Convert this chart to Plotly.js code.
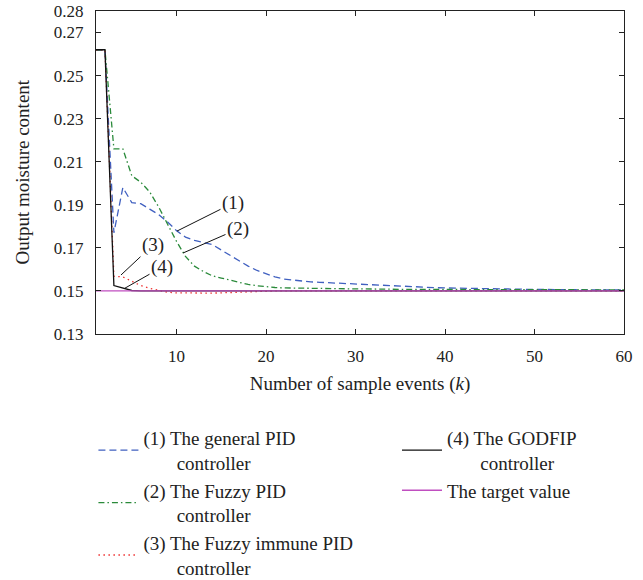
<!DOCTYPE html>
<html>
<head>
<meta charset="utf-8">
<script src="https://cdn.plot.ly/plotly-3.0.1.min.js"></script>
<style>html,body{margin:0;padding:0;background:#fff;}#chart{width:643px;height:580px;}</style>
</head>
<body>
<div id="chart"></div>
<script>
// Sample events k = 1..60
const sampleK = Array.from({length: 60}, (_, i) => i + 1);

// (1) The general PID controller
const generalPID = [
  0.262, 0.262, 0.177, 0.198, 0.191, 0.1905, 0.188, 0.1855, 0.182, 0.178,
  0.175, 0.1735, 0.1725, 0.1715, 0.169, 0.1665, 0.164, 0.1615, 0.1595, 0.158,
  0.1565, 0.1555, 0.155, 0.1545, 0.1542, 0.154, 0.1538, 0.1536, 0.1535, 0.1533,
  0.153, 0.1528, 0.1525, 0.1522, 0.152, 0.152, 0.1518, 0.1516, 0.1515, 0.1514,
  0.1513, 0.1512, 0.1511, 0.151, 0.151, 0.1509, 0.1509, 0.1508, 0.1508, 0.1507,
  0.1507, 0.1506, 0.1506, 0.1506, 0.1505, 0.1505, 0.1505, 0.1505, 0.1505, 0.1505
];
// (2) The Fuzzy PID controller
const fuzzyPID = [
  0.262, 0.262, 0.216, 0.216, 0.2035, 0.2005, 0.196, 0.189, 0.181, 0.173,
  0.166, 0.1615, 0.159, 0.157, 0.156, 0.155, 0.154, 0.153, 0.1524, 0.1519,
  0.1516, 0.1514, 0.1513, 0.1512, 0.1511, 0.1511, 0.151, 0.151, 0.151, 0.151,
  0.1509, 0.1509, 0.1508, 0.1508, 0.1508, 0.1507, 0.1507, 0.1507, 0.1506, 0.1506,
  0.1506, 0.1505, 0.1505, 0.1505, 0.1505, 0.1505, 0.1505, 0.1505, 0.1505, 0.1505,
  0.1505, 0.1505, 0.1505, 0.1505, 0.1505, 0.1505, 0.1505, 0.1505, 0.1505, 0.1505
];
// (3) The Fuzzy immune PID controller
const fuzzyImmunePID = [
  0.262, 0.262, 0.1568, 0.1565, 0.1545, 0.1525, 0.1512, 0.1502, 0.1494, 0.1491,
  0.149, 0.149, 0.149, 0.149, 0.1491, 0.1493, 0.1495, 0.1497, 0.1498, 0.1499,
  0.15, 0.15, 0.15, 0.15, 0.15, 0.15, 0.15, 0.15, 0.15, 0.15,
  0.15, 0.15, 0.15, 0.15, 0.15, 0.15, 0.15, 0.15, 0.15, 0.15,
  0.15, 0.15, 0.15, 0.15, 0.15, 0.15, 0.15, 0.15, 0.15, 0.15,
  0.15, 0.15, 0.15, 0.15, 0.15, 0.15, 0.15, 0.15, 0.15, 0.15
];
// (4) The GODFIP controller
const godfip = [
  0.262, 0.262, 0.1525, 0.1513, 0.1502, 0.15, 0.15, 0.15, 0.15, 0.15,
  0.15, 0.15, 0.15, 0.15, 0.15, 0.15, 0.15, 0.15, 0.15, 0.15,
  0.15, 0.15, 0.15, 0.15, 0.15, 0.15, 0.15, 0.15, 0.15, 0.15,
  0.15, 0.15, 0.15, 0.15, 0.15, 0.15, 0.15, 0.15, 0.15, 0.15,
  0.15, 0.15, 0.15, 0.15, 0.15, 0.15, 0.15, 0.15, 0.15, 0.15,
  0.15, 0.15, 0.15, 0.15, 0.15, 0.15, 0.15, 0.15, 0.15, 0.15
];
// Target value
const targetValue = sampleK.map(() => 0.15);

const yTickVals = [0.13, 0.15, 0.17, 0.19, 0.21, 0.23, 0.25, 0.27, 0.28];
const yTickText = ['0.13', '0.15', '0.17', '0.19', '0.21', '0.23', '0.25', '0.27', '0.28'];
const xTickVals = [10, 20, 30, 40, 50, 60];
const yTitle = 'Output moisture content';
const xTitle = 'Number of sample events (<i>k</i>)';

const seriesNames = [
  '(1) The general PID<br>\u00A0\u00A0\u00A0\u00A0\u00A0\u00A0\u00A0controller',
  '(2) The Fuzzy PID<br>\u00A0\u00A0\u00A0\u00A0\u00A0\u00A0\u00A0controller',
  '(3) The Fuzzy immune PID<br>\u00A0\u00A0\u00A0\u00A0\u00A0\u00A0\u00A0controller',
  '(4) The GODFIP<br>\u00A0\u00A0\u00A0\u00A0\u00A0\u00A0\u00A0controller',
  'The target value'
];

const FONT = 'Liberation Serif, Times New Roman, serif';

const traces = [
  {x: sampleK, y: generalPID, mode: 'lines', name: seriesNames[0], legend: 'legend',
   line: {color: '#4060c0', width: 1.3, dash: '7px,4px'}},
  {x: sampleK, y: fuzzyPID, mode: 'lines', name: seriesNames[1], legend: 'legend',
   line: {color: '#2a8a3a', width: 1.3, dash: '6px,3px,1.5px,3px'}},
  {x: sampleK, y: fuzzyImmunePID, mode: 'lines', name: seriesNames[2], legend: 'legend',
   line: {color: '#ee3030', width: 1.3, dash: '1.5px,3.5px'}},
  {x: sampleK, y: godfip, mode: 'lines', name: seriesNames[3], legend: 'legend2',
   line: {color: '#111111', width: 1.3}},
  {x: sampleK, y: targetValue, mode: 'lines', name: seriesNames[4], legend: 'legend2',
   line: {color: '#c04ec0', width: 1.3}}
];

const annFont = {family: FONT, size: 19, color: '#222'};
function leader(txt, x, y, ax, ay) {
  return {x: x, y: y, xref: 'x', yref: 'y', text: txt, showarrow: true, arrowhead: 0,
          arrowwidth: 1, arrowcolor: '#111', ax: ax, ay: ay, standoff: 0, font: annFont};
}

const layout = {
  width: 643, height: 580,
  margin: {l: 96, r: 19, t: 11, b: 246, autoexpand: false},
  paper_bgcolor: '#fff', plot_bgcolor: '#fff',
  font: {family: FONT, size: 17, color: '#222'},
  showlegend: true,
  xaxis: {
    range: [1, 60], tickvals: xTickVals, ticks: 'inside', ticklen: 5, tickcolor: '#222',
    showline: true, linecolor: '#222', linewidth: 1.2, mirror: 'ticks', showgrid: false, zeroline: false,
    tickfont: {family: FONT, size: 17, color: '#222'}, ticklabelstandoff: 6,
    title: {text: xTitle, font: {family: FONT, size: 19, color: '#222'}, standoff: 12}
  },
  yaxis: {
    range: [0.13, 0.28], tickvals: yTickVals, ticktext: yTickText, ticks: 'inside', ticklen: 5, tickcolor: '#222',
    showline: true, linecolor: '#222', linewidth: 1.2, mirror: 'ticks', showgrid: false, zeroline: false,
    tickfont: {family: FONT, size: 17, color: '#222'}, ticklabelstandoff: 8
  },
  legend: {
    xref: 'container', yref: 'container',
    x: 0.1453, y: 0.2776, xanchor: 'left', yanchor: 'top', orientation: 'v',
    font: {family: FONT, size: 19, color: '#222'}, bgcolor: 'rgba(0,0,0,0)', tracegroupgap: 10,
    traceorder: 'normal', itemwidth: 40
  },
  legend2: {
    xref: 'container', yref: 'container',
    x: 0.6174, y: 0.2776, xanchor: 'left', yanchor: 'top', orientation: 'v',
    font: {family: FONT, size: 19, color: '#222'}, bgcolor: 'rgba(0,0,0,0)', tracegroupgap: 6,
    traceorder: 'normal', itemwidth: 40
  },
  annotations: [
    {xref: 'paper', yref: 'paper', x: -0.14, y: 0.5, xanchor: 'center', yanchor: 'middle',
     text: yTitle, textangle: -90, showarrow: false, font: {family: FONT, size: 19, color: '#222'}},
    leader('(1)', 10.05, 0.1778, 56, -28),
    leader('(2)', 10.72, 0.1676, 55, -24),
    leader('(3)', 3.79, 0.1574, 32, -30),
    leader('(4)', 4.24, 0.1513, 37, -21)
  ]
};

Plotly.newPlot('chart', traces, layout, {displayModeBar: false, staticPlot: true});
</script>
</body>
</html>
